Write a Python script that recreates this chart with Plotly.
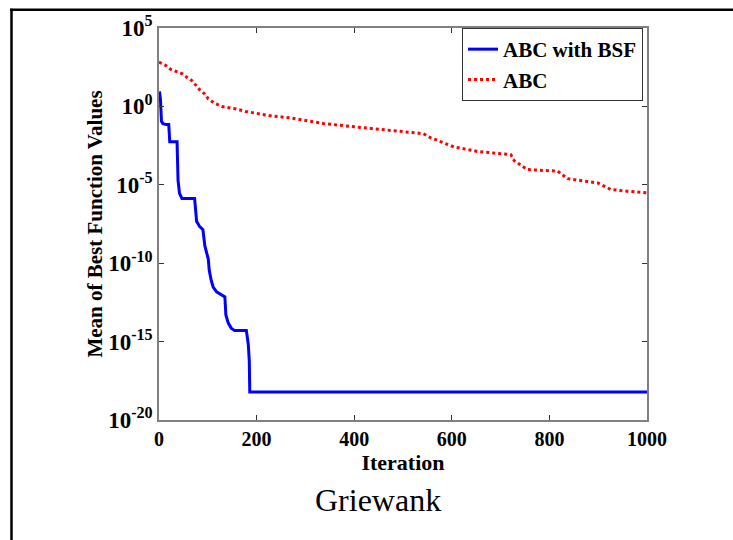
import plotly.graph_objects as go

# ABC with BSF (blue, solid)
bsf_iter = [1, 3, 5, 8, 15, 20, 22, 37, 39, 42, 47, 73, 77, 83, 90, 94, 101, 103, 107, 111,
            118, 125, 135, 137, 142, 148, 155, 179, 183, 185, 186, 1000]
bsf_log = [0.95, 0.45, -0.95, -1.10, -1.16, -1.16, -2.25, -2.25, -4.70, -5.55, -5.87, -5.87,
           -7.33, -7.65, -7.86, -8.90, -9.74, -10.47, -11.10, -11.52, -11.83, -11.94, -12.15,
           -13.30, -13.82, -14.14, -14.30, -14.30, -15.18, -16.23, -18.22, -18.22]

# ABC (red, dotted)
abc_iter = [0, 14, 24, 47, 57, 68, 84, 94, 101, 115, 129, 156, 177, 203, 231, 269, 337, 406,
            474, 542, 556, 604, 652, 721, 728, 755, 817, 837, 899, 926, 960, 1000]
abc_log = [2.82, 2.61, 2.36, 2.09, 1.86, 1.63, 1.04, 0.79, 0.48, 0.18, -0.01, -0.15, -0.32,
           -0.46, -0.61, -0.73, -1.09, -1.32, -1.53, -1.74, -1.99, -2.58, -2.87, -3.08, -3.46,
           -4.03, -4.13, -4.61, -4.88, -5.30, -5.41, -5.51]

y_tickvals = [1e5, 1e0, 1e-5, 1e-10, 1e-15, 1e-20]
y_ticktext = ["10<sup>5</sup>", "10<sup>0</sup>", "10<sup>-5</sup>", "10<sup>-10</sup>",
              "10<sup>-15</sup>", "10<sup>-20</sup>"]
x_tickvals = [0, 200, 400, 600, 800, 1000]

bsf_vals = [10 ** v for v in bsf_log]
abc_vals = [10 ** v for v in abc_log]

SERIF = "Liberation Serif"

fig = go.Figure()
fig.add_trace(go.Scatter(x=bsf_iter, y=bsf_vals, mode="lines", name="ABC with BSF",
                         line=dict(color="#0000FF", width=3)))
fig.add_trace(go.Scatter(x=abc_iter, y=abc_vals, mode="lines", name="ABC",
                         line=dict(color="#FF0000", width=3, dash="dot")))

L, R, T, B = 159, 86, 22, 120
W, H = 733 - L - R, 540 - T - B

def px(x):
    return (x - L) / W

def py(y):
    return (540 - B - y) / H

fig.update_layout(
    width=733, height=540,
    margin=dict(l=L, r=R, t=T, b=B),
    paper_bgcolor="white", plot_bgcolor="white",
    font=dict(family=SERIF, color="black"),
    showlegend=True,
    legend=dict(x=px(643), y=py(22), xanchor="right", yanchor="top",
                bgcolor="white", bordercolor="#333333", borderwidth=1,
                font=dict(family=SERIF, size=21, weight="bold", color="black"),
                tracegroupgap=0),
    xaxis=dict(range=[0, 1000], tickvals=x_tickvals, ticks="inside", ticklen=5,
               tickcolor="#333333", showline=True, linecolor="#808080", linewidth=1.5,
               mirror="ticks", showgrid=False, zeroline=False,
               tickfont=dict(family=SERIF, size=20, weight="bold", color="black"),
               title=dict(text="Iteration", standoff=0,
                          font=dict(family=SERIF, size=22, weight="bold", color="black"))),
    yaxis=dict(type="log", range=[-20, 5], tickvals=y_tickvals, ticktext=y_ticktext,
               ticks="inside", ticklen=5, tickcolor="#333333", showline=True,
               linecolor="#808080", linewidth=1.5, mirror="ticks", showgrid=False,
               zeroline=False,
               tickfont=dict(family=SERIF, size=23, weight="bold", color="black"),
               title=dict(text="Mean of Best Function Values", standoff=0,
                          font=dict(family=SERIF, size=21, weight="bold", color="black"))),
    annotations=[dict(text="Griewank", xref="paper", yref="paper", x=px(378), y=py(501),
                      xanchor="center", yanchor="middle", showarrow=False,
                      font=dict(family=SERIF, size=32, color="black"))],
    shapes=[
        dict(type="line", xref="paper", yref="paper", x0=px(10), x1=px(740),
             y0=py(3.5), y1=py(3.5), line=dict(color="black", width=2.5)),
        dict(type="line", xref="paper", yref="paper", x0=px(11.5), x1=px(11.5),
             y0=py(2.5), y1=py(545), line=dict(color="black", width=2.5)),
    ],
)

fig.write_html("out.html")
